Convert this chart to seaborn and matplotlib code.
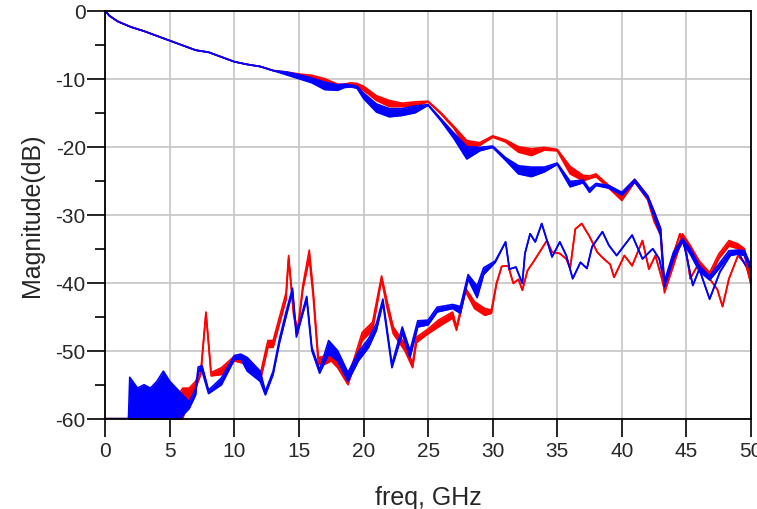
#importing packages
import matplotlib
matplotlib.use("Agg")
import matplotlib.pyplot as plt
from matplotlib.ticker import MultipleLocator
import seaborn as sns

#top curves (insertion loss), red and blue bands: upper / lower edge
il_freq = [0, 0.3, 0.6, 1, 1.5, 2, 3, 4, 5, 6, 7, 8, 9, 10, 11, 12, 13, 14, 15, 16, 17, 18,
           18.5, 19, 19.5, 20, 21, 22, 23, 24, 25, 26, 27, 28, 29, 30, 31, 32, 33, 34, 35,
           36, 37, 37.5, 38, 39, 40, 41, 42, 42.5, 43, 43.3, 44, 44.7, 45.3, 46, 46.8, 47.5,
           48.3, 49, 49.5, 50]
il_red_hi = [0, -0.7, -1.1, -1.6, -2.0, -2.4, -3.0, -3.7, -4.4, -5.1, -5.8, -6.1, -6.8, -7.5,
             -7.9, -8.2, -8.8, -9.0, -9.3, -9.5, -10.0, -10.8, -10.8, -10.6, -10.7, -11.1,
             -12.5, -13.2, -13.6, -13.4, -13.3, -15.0, -17.0, -19.1, -19.4, -18.4, -19.0,
             -20.0, -20.3, -20.1, -20.4, -22.9, -24.2, -24.3, -24.0, -25.7, -26.9, -24.8,
             -27.2, -29.5, -32.0, -40.5, -36.5, -32.8, -34.5, -36.8, -38.5, -35.8, -33.8,
             -34.3, -35.0, -39.5]
il_red_lo = [0, -0.7, -1.1, -1.6, -2.0, -2.4, -3.0, -3.7, -4.4, -5.1, -5.8, -6.1, -6.8, -7.5,
             -7.9, -8.2, -8.8, -9.2, -9.5, -9.9, -10.6, -11.2, -11.1, -10.9, -11.0, -11.7,
             -13.2, -14.1, -14.1, -14.0, -13.4, -15.2, -17.3, -20.3, -19.8, -18.6, -19.3,
             -20.8, -21.3, -20.5, -20.6, -24.0, -25.0, -24.7, -24.4, -26.1, -27.9, -25.2,
             -27.8, -31.0, -33.0, -41.5, -37.5, -33.3, -35.3, -37.5, -39.3, -36.5, -34.6,
             -35.0, -36.0, -40.3]
il_blue_hi = [0, -0.7, -1.1, -1.6, -2.0, -2.4, -3.0, -3.7, -4.4, -5.1, -5.8, -6.1, -6.8, -7.5,
              -7.9, -8.2, -8.8, -9.0, -9.4, -9.9, -10.5, -10.9, -10.8, -10.9, -11.1, -12.1,
              -13.7, -14.4, -14.4, -14.0, -13.8, -15.9, -18.0, -20.0, -20.1, -19.9, -21.6,
              -22.8, -23.0, -23.0, -22.4, -25.1, -24.9, -26.2, -25.4, -25.7, -26.7, -24.8,
              -27.2, -29.5, -32.0, -39.8, -35.5, -33.5, -35.0, -37.5, -39.0, -37.3, -35.3,
              -35.2, -35.3, -37.5]
il_blue_lo = [0, -0.7, -1.1, -1.6, -2.0, -2.4, -3.0, -3.7, -4.4, -5.1, -5.8, -6.1, -6.8, -7.5,
              -7.9, -8.2, -8.8, -9.4, -10.0, -10.6, -11.6, -11.7, -11.3, -11.2, -11.4, -12.9,
              -14.9, -15.6, -15.4, -15.0, -13.9, -16.2, -18.8, -21.8, -20.6, -20.1, -22.0,
              -24.0, -24.4, -23.7, -22.6, -25.9, -25.3, -26.7, -25.7, -26.1, -27.1, -25.2,
              -27.6, -30.3, -33.0, -40.6, -36.5, -34.0, -35.8, -38.3, -39.6, -38.0, -36.0,
              -35.8, -36.0, -38.3]

#lower curves (crosstalk), red
xt_red_freq = [0, 1.8, 2.0, 3, 4, 5, 5.5, 6, 6.5, 7, 7.4, 7.8, 8.2, 9, 10, 11, 12, 12.6, 13,
               13.5, 14, 14.2, 14.6, 14.9, 15.3, 15.8, 16.1, 16.5, 17, 17.5, 18, 18.8, 19.3,
               19.9, 20.7, 21.4, 21.8, 22.3, 23.2, 23.8, 24.1, 25, 25.8, 26.9, 27.2, 27.9,
               28.6, 29.4, 29.9, 30.3, 30.7, 31.2, 31.6, 32.0, 32.3, 32.7, 33.2, 34.2, 34.6,
               35.2, 35.7, 36.0, 36.4, 36.9, 37.5, 38.1, 38.5, 39.1, 39.4, 40.2, 40.8, 41.6,
               42.1, 42.6, 43.1, 43.3, 43.8, 44.5, 45.0, 45.3, 46.0, 46.8, 47.4, 47.8, 48.3,
               49.0, 49.6, 50.0]
xt_red_hi = [-60, -60, -57, -57.5, -57.5, -57, -57, -55.5, -55.5, -54.5, -53, -44.3, -53.2,
             -52.5, -50.8, -51.2, -53.5, -48.5, -48.5, -45, -41.5, -36, -44.5, -46.8, -40.4,
             -35.2, -41.0, -51.0, -50.8, -50.5, -51.5, -53.8, -51, -47.3, -45.8, -39, -42.5,
             -46.5, -49, -51.8, -48, -46.8, -45.5, -44.3, -46.5, -40.8, -42.8, -43.8, -44,
             -40, -37.6, -37.5, -40.1, -39.5, -41.1, -38.2, -36.8, -33.8, -35.5, -35.7,
             -36.5, -37.9, -32.1, -31.3, -33.2, -35.5, -36.3, -37.3, -39.2, -36.0, -37.5,
             -33.8, -38.0, -36.0, -39.4, -41.0, -37.0, -32.8, -35.5, -39.4, -37.0, -39.4,
             -41.0, -43.5, -39.4, -36.0, -37.3, -40.0]
xt_red_lo = [-60, -60, -61, -61, -61, -61, -61, -60, -57, -55.5, -53.5, -44.5, -53.7, -53.5,
             -51.5, -52.0, -54.5, -49.5, -49.5, -46, -42.5, -36.5, -45, -47.5, -41, -36.5,
             -42, -52, -52, -51.5, -52.5, -55, -52, -48.5, -47, -39.5, -43.5, -47.5, -50,
             -52.5, -48.8, -47.5, -46.5, -45.2, -47, -41.3, -43.8, -44.8, -44.5, -40.2,
             -37.6, -37.5, -40.1, -39.5, -41.1, -38.2, -36.8, -33.8, -35.5, -35.7, -36.5,
             -37.9, -32.1, -31.3, -33.2, -35.5, -36.3, -37.3, -39.2, -36.0, -37.5, -33.8,
             -38.0, -36.0, -39.4, -41.0, -37.0, -32.8, -35.5, -39.4, -37.0, -39.4, -41.0,
             -43.5, -39.4, -36.0, -37.3, -40.0]

#lower curves (crosstalk), blue
xt_blue_freq = [0, 1.8, 1.9, 2.5, 3.0, 3.5, 4.0, 4.5, 5.0, 5.5, 6.0, 6.5, 7.0, 7.2, 7.5, 8.0,
                9.0, 10.0, 10.5, 11.0, 12.0, 12.4, 13.0, 13.5, 14.0, 14.5, 14.8, 15.6, 16.0,
                16.6, 17.3, 18.0, 18.8, 19.6, 20.4, 21.0, 21.5, 22.2, 23.0, 23.6, 24.2, 25.0,
                25.7, 26.9, 27.5, 28.1, 28.8, 29.3, 30.2, 31.0, 31.3, 31.8, 32.3, 32.5, 32.9,
                33.3, 33.8, 34.6, 35.2, 35.7, 36.2, 36.8, 37.3, 37.7, 38.5, 39.0, 39.6, 40.8,
                41.6, 42.4, 42.9, 43.3, 44.7, 45.5, 46.0, 46.8, 47.6, 48.4, 49.0, 49.6, 50.0]
xt_blue_hi = [-60, -60, -53.9, -55.5, -55.0, -55.5, -54.5, -53.0, -54.5, -55.5, -56.5, -57.5,
              -55.6, -52.4, -52.2, -55.8, -54.0, -50.7, -50.5, -51.0, -53.0, -56.0, -53.0,
              -48.2, -44.3, -40.8, -47.5, -42.0, -49.5, -52.8, -48.5, -50.0, -53.2, -50.2,
              -48.2, -46.0, -42.4, -52.0, -46.5, -50.0, -45.6, -45.5, -43.6, -43.2, -43.5,
              -38.8, -40.5, -37.8, -36.8, -34.0, -38.0, -37.7, -40.1, -35.7, -32.8, -34.0,
              -31.3, -36.2, -34.0, -36.0, -39.4, -37.0, -37.9, -34.7, -32.5, -34.5, -36.0,
              -33.0, -36.5, -35.0, -36.5, -39.9, -33.3, -40.4, -38.0, -42.4, -38.4, -36.0,
              -35.5, -37.5, -38.4]
xt_blue_lo = [-60, -60, -61, -61, -61, -61, -61, -61, -61, -61, -59.5, -58.5, -56.5, -53.0,
              -53.0, -56.3, -55.0, -51.3, -51.2, -53.0, -54.5, -56.5, -53.5, -48.8, -45.0,
              -41.3, -48.0, -42.5, -50.0, -53.3, -50.5, -51.5, -54.5, -51.5, -49.5, -47.0,
              -43.0, -52.5, -47.5, -51.0, -46.5, -46.2, -44.3, -43.8, -44.5, -39.5, -42.2,
              -38.8, -37.0, -34.0, -38.0, -37.7, -40.1, -35.7, -32.8, -34.0, -31.3, -36.2,
              -34.0, -36.0, -39.4, -37.0, -37.9, -34.7, -32.5, -34.5, -36.0, -33.0, -36.5,
              -35.0, -36.5, -39.9, -33.3, -40.4, -38.0, -42.4, -38.4, -36.0, -35.5, -37.5,
              -38.4]

x_ticks = list(range(0, 51, 5))
y_ticks = list(range(-60, 1, 10))

sns.set_style("white")
plt.rcParams['font.family'] = ['Liberation Sans', 'DejaVu Sans']
plt.rcParams['axes.unicode_minus'] = False

fig, ax = plt.subplots(figsize=(7.57, 5.1), dpi=100)
fig.subplots_adjust(left=0.139, right=0.992, top=0.977, bottom=0.177)


#function for drawing one curve as a band between two edges
def band(freq, hi, lo, color, z):
    ax.fill_between(freq, lo, hi, color=color, lw=0, zorder=z)
    sns.lineplot(x=freq, y=hi, color=color, lw=1.2, ax=ax, sort=False, zorder=z)
    sns.lineplot(x=freq, y=lo, color=color, lw=1.2, ax=ax, sort=False, zorder=z)


band(xt_red_freq, xt_red_hi, xt_red_lo, "#ff0000", 2)
band(xt_blue_freq, xt_blue_hi, xt_blue_lo, "#0000ff", 3)
band(il_freq, il_red_hi, il_red_lo, "#ff0000", 4)
band(il_freq, il_blue_hi, il_blue_lo, "#0000ff", 5)

ax.set_xlim(0, 50)
ax.set_ylim(-60, 0)
ax.set_xticks(x_ticks)
ax.set_yticks(y_ticks)
ax.yaxis.set_minor_locator(MultipleLocator(5))
ax.grid(True, which="major", color="#c8c8c8", lw=1.3, zorder=0)
ax.set_axisbelow(True)
ax.tick_params(axis="both", which="major", direction="out", length=13, width=1.2,
               labelsize=15, color="black", bottom=True, left=True)
ax.tick_params(axis="y", which="major", pad=1)
ax.tick_params(axis="x", which="major", pad=3)
ax.tick_params(axis="y", which="minor", direction="out", length=7, width=1.2,
               color="black", left=True)
for s in ax.spines.values():
    s.set_color("black")
    s.set_linewidth(1.3)
    s.set_zorder(6)

ax.set_xlabel("freq, GHz", fontsize=18, labelpad=18)
ax.set_ylabel("Magnitude(dB)", fontsize=18, labelpad=8)

plt.savefig("out.png", dpi=100)
